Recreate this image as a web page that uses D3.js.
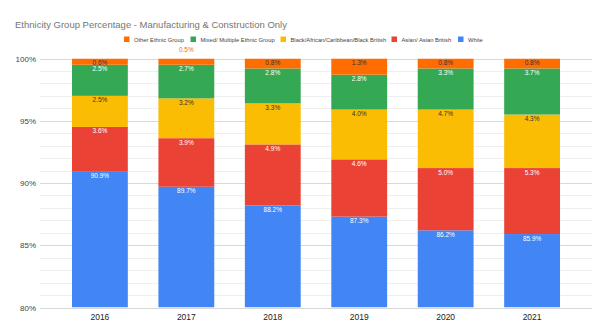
<!DOCTYPE html>
<html>
<head>
<meta charset="utf-8">
<script src="https://cdn.jsdelivr.net/npm/d3@7"></script>
<style>
  body { margin: 0; background: #fff; }
  svg text { font-family: "Liberation Sans", Arial, sans-serif; }
</style>
</head>
<body>
<div id="chart"></div>
<script>
var years = ['2016', '2017', '2018', '2019', '2020', '2021'];

// stacked bottom to top
var seriesNames = ['White', 'Asian/ Asian British', 'Black/African/Caribbean/Black British', 'Mixed/ Multiple Ethnic Group', 'Other Ethnic Group'];
var white   = [90.9, 89.7, 88.2, 87.3, 86.2, 85.9];
var asian   = [3.6, 3.9, 4.9, 4.6, 5.0, 5.3];
var black   = [2.5, 3.2, 3.3, 4.0, 4.7, 4.3];
var mixed   = [2.5, 2.7, 2.8, 2.8, 3.3, 3.7];
var other   = [0.6, 0.5, 0.8, 1.3, 0.8, 0.8];
var yTicks  = [80, 85, 90, 95, 100];

var seriesValues = [white, asian, black, mixed, other];
var colors = ['#4285f4', '#ea4335', '#fbbc04', '#34a853', '#ff6d01'];
var labelColors = ['#ffffff', '#ffffff', '#333333', '#ffffff', '#333333'];

var width = 601,
    height = 335,
    plotLeft = 40,
    plotRight = 592,
    plotTop = 58.5,
    plotBottom = 307.5;

var svg = d3.select('#chart').append('svg')
    .attr('width', width)
    .attr('height', height);

var x = d3.scaleBand()
    .domain(years)
    .range([plotLeft, plotRight])
    .paddingInner(0.354)
    .paddingOuter(0.37);

var y = d3.scaleLinear()
    .domain([80, 100])
    .range([plotBottom, plotTop]);

// Title
svg.append('text')
    .attr('x', 15)
    .attr('y', 27.5)
    .attr('fill', '#757575')
    .attr('font-size', '9.5px')
    .text('Ethnicity Group Percentage - Manufacturing & Construction Only');

// Legend (top series first)
var legendItems = [
  { name: 'Other Ethnic Group', color: colors[4], x: 124 },
  { name: 'Mixed/ Multiple Ethnic Group', color: colors[3], x: 190.5 },
  { name: 'Black/African/Caribbean/Black British', color: colors[2], x: 280.5 },
  { name: 'Asian/ Asian British', color: colors[1], x: 391.5 },
  { name: 'White', color: colors[0], x: 458 }
];
var legend = svg.append('g').attr('class', 'legend');
legend.selectAll('rect')
    .data(legendItems)
    .enter().append('rect')
    .attr('x', function(d) { return d.x; })
    .attr('y', 36.5)
    .attr('width', 5.5)
    .attr('height', 5.5)
    .attr('fill', function(d) { return d.color; });
legend.selectAll('text')
    .data(legendItems)
    .enter().append('text')
    .attr('x', function(d) { return d.x + 10; })
    .attr('y', 41.5)
    .attr('fill', '#444')
    .attr('font-size', '5.8px')
    .text(function(d) { return d.name; });

// Gridlines: minor every 1%, major every 5%
var grid = svg.append('g').attr('class', 'grid');
grid.selectAll('line')
    .data(d3.range(80, 101))
    .enter().append('line')
    .attr('x1', plotLeft)
    .attr('x2', plotRight)
    .attr('y1', function(d) { return Math.round(y(d)) + 0.5; })
    .attr('y2', function(d) { return Math.round(y(d)) + 0.5; })
    .attr('stroke', function(d) { return d % 5 === 0 ? '#d9d9d9' : '#efefef'; })
    .attr('stroke-width', 1);

// Y axis labels
svg.append('g').selectAll('text')
    .data(yTicks)
    .enter().append('text')
    .attr('x', 36)
    .attr('y', function(d) { return y(d) + 3; })
    .attr('text-anchor', 'end')
    .attr('fill', '#444')
    .attr('font-size', '8px')
    .text(function(d) { return d + '%'; });

// X axis labels
svg.append('g').selectAll('text')
    .data(years)
    .enter().append('text')
    .attr('x', function(d) { return x(d) + x.bandwidth() / 2; })
    .attr('y', 319.5)
    .attr('text-anchor', 'middle')
    .attr('fill', '#222')
    .attr('font-size', '8.5px')
    .text(function(d) { return d; });

// Stack data
var table = years.map(function(yr, i) {
  var row = { year: yr };
  seriesNames.forEach(function(name, s) { row[name] = seriesValues[s][i]; });
  return row;
});
var stacked = d3.stack().keys(seriesNames)(table);

svg.append('clipPath')
    .attr('id', 'plotClip')
    .append('rect')
    .attr('x', 0)
    .attr('y', plotTop)
    .attr('width', width)
    .attr('height', plotBottom - plotTop);

var bars = svg.append('g').attr('clip-path', 'url(#plotClip)');
bars.selectAll('g')
    .data(stacked)
    .enter().append('g')
    .attr('fill', function(d, i) { return colors[i]; })
    .selectAll('rect')
    .data(function(d) { return d; })
    .enter().append('rect')
    .attr('x', function(d) { return x(d.data.year); })
    .attr('y', function(d) { return y(Math.min(d[1], 100)); })
    .attr('width', x.bandwidth())
    .attr('height', function(d) { return y(Math.max(d[0], 80)) - y(Math.min(d[1], 100)); });

// Value labels near the top of each segment; slivers under 0.6% get theirs above the plot
var labels = svg.append('g');
stacked.forEach(function(layer, s) {
  layer.forEach(function(d) {
    var value = d[1] - d[0];
    var top = y(Math.min(d[1], 100));
    var outside = value < 0.55;
    labels.append('text')
        .attr('x', x(d.data.year) + x.bandwidth() / 2)
        .attr('y', outside ? plotTop - 7 : top + 6.5)
        .attr('text-anchor', 'middle')
        .attr('fill', outside ? colors[s] : labelColors[s])
        .attr('font-size', '6.5px')
        .text(value.toFixed(1) + '%');
  });
});
</script>
</body>
</html>
